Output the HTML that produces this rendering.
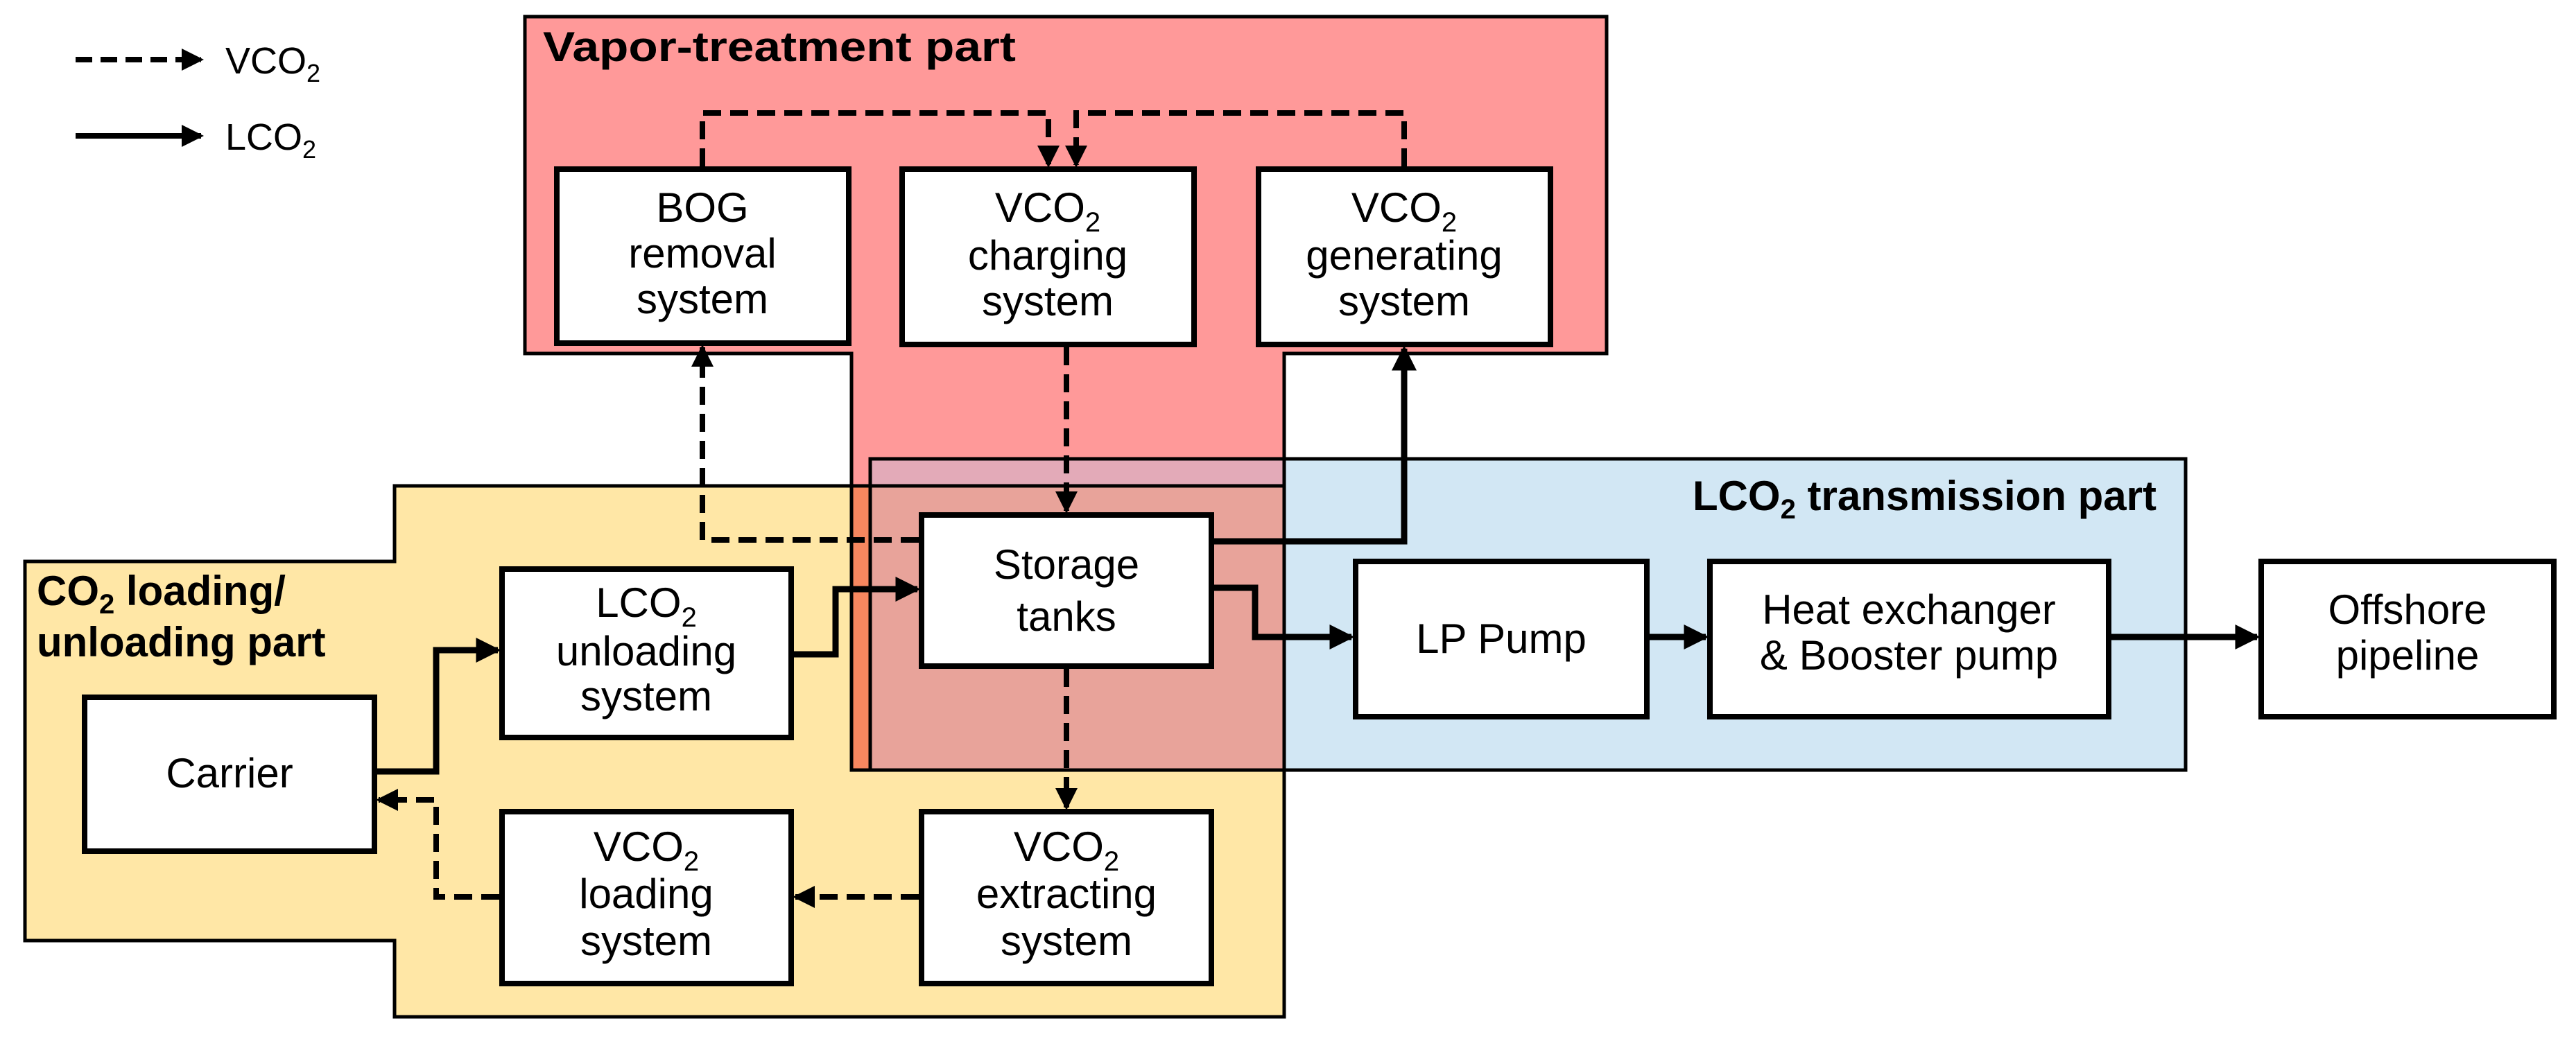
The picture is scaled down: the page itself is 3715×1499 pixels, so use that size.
<!DOCTYPE html>
<html><head><meta charset="utf-8"><style>
html,body{margin:0;padding:0;background:#fff;}
svg{display:block;}
text{font-family:"Liberation Sans",Arial,sans-serif;fill:#000;}
.b{font-size:60px;text-anchor:middle;}
.t{font-size:60px;font-weight:bold;}
</style></head><body>
<svg width="3715" height="1499" viewBox="0 0 3715 1499" xmlns="http://www.w3.org/2000/svg">
<defs>
<marker id="ah" markerWidth="5" markerHeight="5" refX="3.5" refY="2" orient="auto" markerUnits="strokeWidth">
<path d="M0,0 L4,2 L0,4 z" fill="#000"/></marker>
</defs>
<!-- region fills -->
<polygon points="757,24 2317,24 2317,510 1852,510 1852,1111 1228,1111 1228,510 757,510" fill="#FF9999"/>
<polygon points="569,701 1852,701 1852,1467 569,1467 569,1357 36,1357 36,810 569,810" fill="#FFE7A6"/>
<rect x="1255" y="662" width="1897" height="449" fill="#D2E7F4"/>
<rect x="1228" y="701" width="27" height="410" fill="#F7875F"/>
<rect x="1255" y="701" width="597" height="410" fill="#E8A39A"/>
<rect x="1255" y="662" width="597" height="39" fill="#E3AAB8"/>
<!-- region borders -->
<g fill="none" stroke="#000" stroke-width="5">
<polygon points="757,24 2317,24 2317,510 1852,510 1852,1111 1228,1111 1228,510 757,510"/>
<polygon points="569,701 1852,701 1852,1467 569,1467 569,1357 36,1357 36,810 569,810"/>
<rect x="1255" y="662" width="1897" height="449"/>
</g>
<!-- titles -->
<text class="t" x="783" y="88" textLength="682" lengthAdjust="spacingAndGlyphs">Vapor-treatment part</text>
<text class="t" x="53" y="873">CO<tspan font-size="40" dy="12">2</tspan><tspan dy="-12"> loading/</tspan></text>
<text class="t" x="53" y="947">unloading part</text>
<text class="t" x="3110" y="736" text-anchor="end">LCO<tspan font-size="40" dy="12">2</tspan><tspan dy="-12"> transmission part</tspan></text>
<!-- legend -->
<line x1="109" y1="86" x2="290" y2="86" stroke="#000" stroke-width="8" stroke-dasharray="24,12" marker-end="url(#ah)"/>
<line x1="109" y1="196" x2="290" y2="196" stroke="#000" stroke-width="8" marker-end="url(#ah)"/>
<text x="325" y="106" font-size="54">VCO<tspan font-size="36" dy="12">2</tspan></text>
<text x="325" y="216" font-size="54">LCO<tspan font-size="36" dy="12">2</tspan></text>
<!-- boxes -->
<g fill="#fff" stroke="#000" stroke-width="8">
<rect x="803" y="244" width="421" height="251"/>
<rect x="1301" y="244" width="421" height="253"/>
<rect x="1815" y="244" width="421" height="253"/>
<rect x="1329" y="743" width="418" height="218"/>
<rect x="724" y="821" width="417" height="243"/>
<rect x="122" y="1006" width="418" height="222"/>
<rect x="724" y="1171" width="417" height="248"/>
<rect x="1329" y="1171" width="418" height="248"/>
<rect x="1955" y="810" width="420" height="224"/>
<rect x="2466" y="810" width="575" height="224"/>
<rect x="3261" y="810" width="422" height="224"/>
</g>
<!-- box labels -->
<text class="b" x="1013" y="320">BOG</text>
<text class="b" x="1013" y="386">removal</text>
<text class="b" x="1013" y="452">system</text>
<text class="b" x="1511" y="320">VCO<tspan font-size="40" dy="14">2</tspan></text>
<text class="b" x="1511" y="389">charging</text>
<text class="b" x="1511" y="455">system</text>
<text class="b" x="2025" y="320">VCO<tspan font-size="40" dy="14">2</tspan></text>
<text class="b" x="2025" y="389">generating</text>
<text class="b" x="2025" y="455">system</text>
<text class="b" x="1538" y="835">Storage</text>
<text class="b" x="1538" y="910">tanks</text>
<text class="b" x="932" y="890">LCO<tspan font-size="40" dy="14">2</tspan></text>
<text class="b" x="932" y="960">unloading</text>
<text class="b" x="932" y="1025">system</text>
<text class="b" x="331" y="1136">Carrier</text>
<text class="b" x="932" y="1242">VCO<tspan font-size="40" dy="14">2</tspan></text>
<text class="b" x="932" y="1310">loading</text>
<text class="b" x="932" y="1378">system</text>
<text class="b" x="1538" y="1242">VCO<tspan font-size="40" dy="14">2</tspan></text>
<text class="b" x="1538" y="1310">extracting</text>
<text class="b" x="1538" y="1378">system</text>
<text class="b" x="2165" y="942">LP Pump</text>
<text class="b" x="2753" y="900">Heat exchanger</text>
<text class="b" x="2753" y="966">&amp; Booster pump</text>
<text class="b" x="3472" y="900">Offshore</text>
<text class="b" x="3472" y="966">pipeline</text>
<!-- dashed connectors -->
<g fill="none" stroke="#000" stroke-width="8" stroke-dasharray="26,13">
<polyline points="1013,240 1013,163 1512,163 1512,238" marker-end="url(#ah)"/>
<polyline points="2025,240 2025,163 1552,163 1552,238" marker-end="url(#ah)"/>
<polyline points="1538,501 1538,737" marker-end="url(#ah)"/>
<polyline points="1325,779 1013,779 1013,501" marker-end="url(#ah)"/>
<polyline points="1538,965 1538,1165" marker-end="url(#ah)"/>
<polyline points="1325,1294 1147,1294" marker-end="url(#ah)"/>
<polyline points="720,1294 629,1294 629,1154 546,1154" marker-end="url(#ah)"/>
</g>
<!-- solid connectors -->
<g fill="none" stroke="#000" stroke-width="9">
<polyline points="1751,781 2025,781 2025,503" marker-end="url(#ah)"/>
<polyline points="1145,944 1205,944 1205,850 1323,850" marker-end="url(#ah)"/>
<polyline points="1751,848 1810,848 1810,919 1949,919" marker-end="url(#ah)"/>
<polyline points="2379,919 2460,919" marker-end="url(#ah)"/>
<polyline points="3045,919 3255,919" marker-end="url(#ah)"/>
<polyline points="544,1113 629,1113 629,938 718,938" marker-end="url(#ah)"/>
</g>
</svg>
</body></html>
